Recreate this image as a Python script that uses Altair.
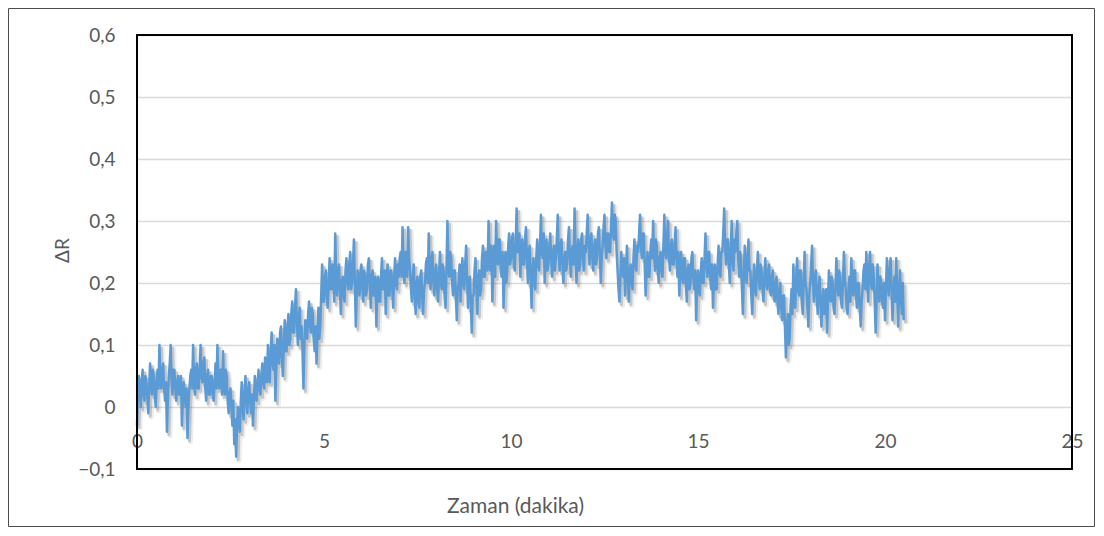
import altair as alt
import pandas as pd

# Sampling step of the recorded signal (minutes)
STEP = 0.025

# ΔR values, one list per minute (40 samples each)
m0 = [-0.03, 0.02, 0.05, 0.03, 0.00, 0.04, 0.06, 0.02, 0.01, 0.05, 0.04, 0.02, -0.01, 0.03, 0.07, 0.04, 0.02, 0.06, 0.05, 0.02,
      0.00, 0.04, 0.06, 0.03, 0.10, 0.05, 0.03, 0.06, 0.07, 0.03, 0.01, 0.04, -0.04, 0.01, 0.05, 0.07, 0.10, 0.04, 0.02, 0.06]
m1 = [0.06, 0.03, 0.01, 0.04, 0.05, 0.02, 0.02, 0.05, -0.03, 0.01, 0.04, 0.02, 0.00, 0.03, -0.05, 0.00, 0.03, 0.05, 0.06, 0.03,
      0.10, 0.05, 0.02, 0.06, 0.07, 0.03, 0.03, 0.06, 0.10, 0.05, 0.04, 0.07, 0.08, 0.03, 0.01, 0.05, 0.06, 0.02, 0.02, 0.05]
m2 = [0.05, 0.02, 0.01, 0.04, 0.07, 0.03, 0.10, 0.05, 0.03, 0.06, 0.06, 0.02, 0.09, 0.04, 0.02, 0.06, 0.05, 0.01, -0.01, 0.02,
      0.03, 0.00, -0.03, 0.01, -0.06, -0.02, -0.08, -0.03, 0.00, -0.02, -0.04, 0.01, 0.04, 0.00, -0.02, 0.02, 0.05, 0.01, -0.01, 0.03]
m3 = [0.04, 0.01, -0.01, 0.02, -0.03, 0.01, 0.05, 0.02, 0.01, 0.04, 0.06, 0.03, 0.02, 0.05, 0.07, 0.04, 0.03, 0.08, 0.06, 0.04,
      0.10, 0.06, 0.04, 0.09, 0.12, 0.07, 0.06, 0.10, 0.01, 0.06, 0.11, 0.08, 0.07, 0.12, 0.13, 0.08, 0.05, 0.10, 0.14, 0.09]
m4 = [0.09, 0.13, 0.15, 0.10, 0.11, 0.15, 0.17, 0.12, 0.12, 0.16, 0.19, 0.14, 0.10, 0.14, 0.16, 0.11, 0.13, 0.09, 0.03, 0.10,
      0.14, 0.12, 0.11, 0.15, 0.17, 0.13, 0.12, 0.16, 0.15, 0.11, 0.09, 0.13, 0.07, 0.12, 0.16, 0.11, 0.13, 0.18, 0.23, 0.17]
m5 = [0.17, 0.21, 0.22, 0.18, 0.16, 0.20, 0.24, 0.19, 0.19, 0.23, 0.21, 0.17, 0.28, 0.21, 0.18, 0.22, 0.23, 0.19, 0.15, 0.20,
      0.21, 0.18, 0.17, 0.22, 0.24, 0.20, 0.19, 0.23, 0.25, 0.19, 0.20, 0.23, 0.27, 0.20, 0.13, 0.18, 0.22, 0.19, 0.18, 0.22]
m6 = [0.23, 0.19, 0.17, 0.22, 0.21, 0.18, 0.19, 0.23, 0.24, 0.20, 0.16, 0.21, 0.22, 0.18, 0.18, 0.21, 0.13, 0.19, 0.21, 0.17,
      0.17, 0.21, 0.24, 0.19, 0.19, 0.22, 0.15, 0.20, 0.23, 0.18, 0.18, 0.22, 0.22, 0.19, 0.16, 0.21, 0.24, 0.20, 0.19, 0.23]
m7 = [0.21, 0.24, 0.25, 0.21, 0.29, 0.23, 0.20, 0.25, 0.24, 0.21, 0.29, 0.24, 0.22, 0.19, 0.17, 0.21, 0.23, 0.18, 0.15, 0.20,
      0.21, 0.17, 0.16, 0.21, 0.22, 0.18, 0.15, 0.19, 0.20, 0.23, 0.24, 0.20, 0.28, 0.22, 0.19, 0.24, 0.25, 0.20, 0.18, 0.22]
m8 = [0.23, 0.19, 0.17, 0.21, 0.25, 0.20, 0.19, 0.23, 0.22, 0.18, 0.16, 0.22, 0.30, 0.23, 0.21, 0.25, 0.24, 0.20, 0.18, 0.22,
      0.22, 0.18, 0.14, 0.19, 0.20, 0.23, 0.17, 0.21, 0.24, 0.20, 0.19, 0.23, 0.26, 0.21, 0.16, 0.20, 0.21, 0.17, 0.12, 0.18]
m9 = [0.18, 0.22, 0.24, 0.19, 0.15, 0.21, 0.22, 0.18, 0.19, 0.24, 0.26, 0.21, 0.21, 0.25, 0.25, 0.22, 0.30, 0.24, 0.22, 0.26,
      0.17, 0.22, 0.26, 0.21, 0.30, 0.25, 0.23, 0.27, 0.27, 0.22, 0.21, 0.25, 0.16, 0.21, 0.25, 0.20, 0.22, 0.26, 0.28, 0.23]
m10 = [0.24, 0.27, 0.28, 0.23, 0.22, 0.26, 0.32, 0.25, 0.25, 0.28, 0.21, 0.25, 0.27, 0.23, 0.23, 0.27, 0.29, 0.24, 0.20, 0.25,
       0.26, 0.21, 0.16, 0.22, 0.24, 0.20, 0.19, 0.24, 0.27, 0.23, 0.22, 0.26, 0.31, 0.25, 0.24, 0.28, 0.20, 0.24, 0.27, 0.22]
m11 = [0.23, 0.26, 0.28, 0.24, 0.21, 0.25, 0.26, 0.22, 0.24, 0.27, 0.31, 0.25, 0.22, 0.26, 0.27, 0.23, 0.20, 0.24, 0.25, 0.22,
       0.23, 0.27, 0.29, 0.24, 0.21, 0.25, 0.26, 0.23, 0.32, 0.26, 0.20, 0.24, 0.27, 0.22, 0.23, 0.27, 0.28, 0.24, 0.22, 0.26]
m12 = [0.25, 0.28, 0.31, 0.26, 0.23, 0.27, 0.28, 0.24, 0.22, 0.26, 0.27, 0.23, 0.24, 0.28, 0.29, 0.25, 0.20, 0.24, 0.26, 0.29,
       0.31, 0.26, 0.24, 0.28, 0.28, 0.25, 0.25, 0.29, 0.33, 0.28, 0.27, 0.31, 0.30, 0.25, 0.22, 0.19, 0.17, 0.21, 0.25, 0.22]
m13 = [0.21, 0.24, 0.18, 0.22, 0.26, 0.21, 0.17, 0.22, 0.23, 0.20, 0.19, 0.24, 0.27, 0.23, 0.22, 0.26, 0.25, 0.28, 0.31, 0.26,
       0.24, 0.28, 0.28, 0.23, 0.18, 0.22, 0.25, 0.21, 0.21, 0.25, 0.27, 0.24, 0.30, 0.25, 0.22, 0.27, 0.26, 0.22, 0.20, 0.24]
m14 = [0.25, 0.22, 0.21, 0.26, 0.31, 0.25, 0.24, 0.28, 0.30, 0.24, 0.22, 0.26, 0.27, 0.23, 0.23, 0.26, 0.29, 0.24, 0.21, 0.25,
       0.18, 0.22, 0.25, 0.21, 0.20, 0.24, 0.24, 0.20, 0.17, 0.22, 0.23, 0.19, 0.20, 0.24, 0.25, 0.21, 0.19, 0.22, 0.14, 0.19]
m15 = [0.22, 0.19, 0.18, 0.22, 0.24, 0.20, 0.20, 0.24, 0.28, 0.23, 0.21, 0.25, 0.25, 0.21, 0.19, 0.23, 0.16, 0.20, 0.23, 0.19,
       0.19, 0.23, 0.26, 0.22, 0.21, 0.25, 0.25, 0.28, 0.32, 0.26, 0.23, 0.27, 0.27, 0.23, 0.20, 0.25, 0.30, 0.24, 0.22, 0.27]
m16 = [0.25, 0.28, 0.30, 0.24, 0.21, 0.25, 0.24, 0.19, 0.15, 0.21, 0.26, 0.22, 0.20, 0.24, 0.27, 0.22, 0.22, 0.18, 0.15, 0.20,
       0.23, 0.19, 0.18, 0.22, 0.25, 0.21, 0.19, 0.23, 0.22, 0.19, 0.17, 0.21, 0.24, 0.20, 0.19, 0.22, 0.23, 0.19, 0.18, 0.21]
m17 = [0.22, 0.18, 0.17, 0.20, 0.21, 0.17, 0.15, 0.19, 0.20, 0.16, 0.14, 0.18, 0.18, 0.13, 0.08, 0.12, 0.15, 0.10, 0.11, 0.16,
       0.19, 0.15, 0.23, 0.18, 0.16, 0.21, 0.24, 0.19, 0.18, 0.22, 0.22, 0.17, 0.15, 0.20, 0.25, 0.20, 0.19, 0.16, 0.13, 0.18]
m18 = [0.20, 0.23, 0.26, 0.20, 0.17, 0.21, 0.22, 0.18, 0.15, 0.19, 0.21, 0.17, 0.13, 0.17, 0.19, 0.15, 0.16, 0.19, 0.12, 0.17,
       0.22, 0.18, 0.17, 0.21, 0.20, 0.16, 0.15, 0.19, 0.24, 0.20, 0.18, 0.22, 0.21, 0.17, 0.16, 0.20, 0.25, 0.21, 0.19, 0.16]
m19 = [0.15, 0.19, 0.21, 0.17, 0.24, 0.20, 0.18, 0.22, 0.22, 0.18, 0.16, 0.20, 0.20, 0.16, 0.13, 0.17, 0.19, 0.22, 0.23, 0.19,
       0.25, 0.21, 0.17, 0.22, 0.25, 0.20, 0.19, 0.23, 0.21, 0.17, 0.12, 0.17, 0.23, 0.19, 0.17, 0.21, 0.20, 0.17, 0.16, 0.20]
m20 = [0.14, 0.19, 0.24, 0.20, 0.18, 0.22, 0.24, 0.19, 0.14, 0.18, 0.21, 0.17, 0.24, 0.19, 0.13, 0.18, 0.22, 0.18, 0.15, 0.20, 0.14]

values = m0 + m1 + m2 + m3 + m4 + m5 + m6 + m7 + m8 + m9 + m10 + m11 + m12 + m13 + m14 + m15 + m16 + m17 + m18 + m19 + m20
times = [round(i * STEP, 3) for i in range(len(values))]

x_ticks = [0, 5, 10, 15, 20, 25]
y_ticks = [-0.1, 0.0, 0.1, 0.2, 0.3, 0.4, 0.5, 0.6]

df = pd.DataFrame({"t": times, "dR": values})

FONT = "Lato"
LABEL_COLOR = "#595959"

x_enc = alt.X(
    "t:Q",
    scale=alt.Scale(domain=[0, 25], nice=False, zero=False),
    axis=alt.Axis(
        values=x_ticks,
        title="Zaman (dakika)",
        offset=-62,
        domain=False,
        ticks=False,
        grid=False,
        labelPadding=25,
        labelFlush=False,
        labelOverlap=False,
        labelBound=False,
        labelFontSize=19,
        labelColor=LABEL_COLOR,
        labelFont=FONT,
        titleFont=FONT,
        titleFontSize=21,
        titleFontWeight="normal",
        titleColor=LABEL_COLOR,
        titleX=378,
        titleY=105,
        titleAlign="center",
        titleBaseline="alphabetic",
    ),
)

y_enc = alt.Y(
    "dR:Q",
    scale=alt.Scale(domain=[-0.1, 0.6], nice=False, zero=False),
    axis=alt.Axis(
        values=y_ticks,
        title="ΔR",
        domain=False,
        ticks=False,
        grid=True,
        gridColor="#D9D9D9",
        gridWidth=1.5,
        labelPadding=22,
        labelFontSize=19,
        labelColor=LABEL_COLOR,
        labelFont=FONT,
        labelExpr="datum.value == 0 ? '0' : replace(format(datum.value, '.1f'), '.', ',')",
        titleFont=FONT,
        titleFontSize=19,
        titleFontWeight="normal",
        titleColor=LABEL_COLOR,
        titleAngle=-90,
        titleX=-75,
        titleY=215,
        titleAlign="center",
        titleBaseline="middle",
    ),
)

base = alt.Chart(df)

shadow_wide = base.mark_line(
    color="#808080", strokeWidth=5, opacity=0.14, xOffset=3, yOffset=4, strokeJoin="round"
).encode(x=x_enc, y=y_enc)

shadow = base.mark_line(
    color="#6e6e6e", strokeWidth=3, opacity=0.3, xOffset=2, yOffset=3, strokeJoin="round"
).encode(x=x_enc, y=y_enc)

line = base.mark_line(
    color="#5B9BD5", strokeWidth=2.5, strokeJoin="round"
).encode(x=x_enc, y=y_enc)

frame = alt.Chart(pd.DataFrame({"k": [0]})).mark_rect(
    fill=None, fillOpacity=0, stroke="#4d4d4d", strokeWidth=1
).encode(
    x=alt.value(-128.5), x2=alt.value(957.5), y=alt.value(-26.5), y2=alt.value(491.5)
)

# black box drawn over the grid, like the chart's plot-area border
box = alt.Chart(pd.DataFrame({"k": [0]})).mark_rect(
    fill=None, fillOpacity=0, stroke="black", strokeWidth=2
).encode(
    x=alt.value(0), x2=alt.value(935), y=alt.value(0), y2=alt.value(434)
)

chart = (
    alt.layer(frame, shadow_wide, shadow, line, box)
    .properties(
        width=935,
        height=434,
        autosize=alt.AutoSizeParams(type="none"),
        padding={"left": 129, "top": 27, "right": 24, "bottom": 59},
    )
    .configure(background="white")
    .configure_view(stroke=None)
)

chart.save("out.html", embed_options={"renderer": "svg", "actions": False})
